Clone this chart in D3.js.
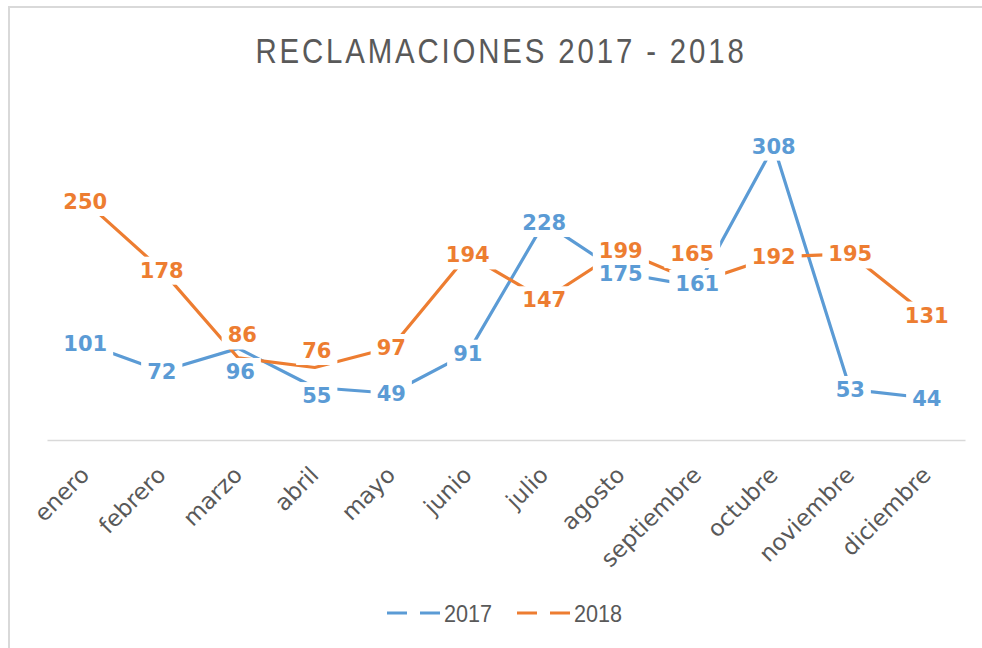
<!DOCTYPE html>
<html>
<head>
<meta charset="utf-8">
<script src="https://cdn.jsdelivr.net/npm/d3@7/dist/d3.min.js"></script>
<style>
  body { margin: 0; background: #fff; }
</style>
</head>
<body>
<div id="chart"></div>
<script>
var months = ["enero", "febrero", "marzo", "abril", "mayo", "junio", "julio",
  "agosto", "septiembre", "octubre", "noviembre", "diciembre"];
var serie2017 = [101, 72, 96, 55, 49, 91, 228, 175, 161, 308, 53, 44];
var serie2018 = [250, 178, 86, 76, 97, 194, 147, 199, 165, 192, 195, 131];
var seriesNames = ["2017", "2018"];
var yDomain = [0, 350];

// labels that were dragged off their point in the original (px)
var nudge2017 = [[0,0],[0,0],[2,23],[2,8],[0,0],[0,0],[0,0],[0,0],[0,-3],[0,0],[0,0],[0,0]];
var nudge2018 = [[0,0],[0,0],[4,-23],[2,-17],[0,0],[0,0],[0,0],[0,0],[-5,-29],[0,0],[0,0],[0,0]];

var colors = ["#5B9BD5", "#ED7D31"];
var width = 982, height = 648;
var plot = {left: 47, right: 965, top: 106, bottom: 440};

var svg = d3.select("#chart").append("svg")
  .attr("width", width)
  .attr("height", height);

svg.append("rect").attr("width", width).attr("height", height).attr("fill", "#fff");

// chart area border (runs off right and bottom edges)
svg.append("path")
  .attr("d", "M9,648V7H982")
  .attr("fill", "none")
  .attr("stroke", "#d9d9d9")
  .attr("stroke-width", 2);

// title, squeezed a bit to look like the narrow office font
svg.append("text")
  .attr("transform", "translate(501,63) scale(0.84,1)")
  .attr("text-anchor", "middle")
  .style("font-family", "'Liberation Sans', Arial, sans-serif")
  .style("font-size", "35px")
  .style("letter-spacing", "3.4px")
  .attr("fill", "#595959")
  .text("RECLAMACIONES 2017 - 2018");

var xScale = d3.scaleBand()
  .domain(months)
  .range([plot.left, plot.right]);

var yScale = d3.scaleLinear()
  .domain(yDomain)
  .range([plot.bottom, plot.top]);

function xc(i) { return xScale(months[i]) + xScale.bandwidth() / 2; }

// x axis
var xAxis = svg.append("g")
  .attr("transform", "translate(0," + yScale(0) + ")")
  .call(d3.axisBottom(xScale).tickSize(0).tickFormat(""));
xAxis.select(".domain").attr("stroke", "#d9d9d9").attr("stroke-width", 1.5);

svg.selectAll(".xlabel")
  .data(months)
  .enter()
  .append("text")
  .attr("class", "xlabel")
  .attr("transform", function(d, i) { return "translate(" + (xc(i) + 1) + ",472) rotate(-45)"; })
  .attr("text-anchor", "end")
  .attr("dy", "0.27em")
  .style("font-family", "'DejaVu Sans', sans-serif")
  .style("font-size", "23px")
  .attr("fill", "#595959")
  .text(function(d) { return d; });

var allSeries = [serie2017, serie2018];
var nudges = [nudge2017, nudge2018];

var line = d3.line()
  .x(function(d, i) { return xc(i); })
  .y(function(d) { return yScale(d); });

allSeries.forEach(function(s, k) {
  svg.append("path")
    .datum(s)
    .attr("d", line)
    .attr("fill", "none")
    .attr("stroke", colors[k])
    .attr("stroke-width", 3.2)
    .attr("stroke-linecap", "round")
    .attr("stroke-linejoin", "round");
});

// data labels with white box that hides the line below
allSeries.forEach(function(s, k) {
  var lab = svg.selectAll(".lab" + k)
    .data(s)
    .enter()
    .append("g")
    .attr("class", "lab" + k)
    .attr("transform", function(d, i) {
      return "translate(" + (xc(i) + nudges[k][i][0]) + "," + (yScale(d) + nudges[k][i][1]) + ")";
    });
  lab.append("rect").attr("fill", "#fff");
  var txt = lab.append("text")
    .attr("text-anchor", "middle")
    .attr("dy", "0.36em")
    .style("font-family", "'DejaVu Sans', sans-serif")
    .style("font-size", "21px")
    .style("font-weight", "bold")
    .attr("fill", colors[k])
    .text(function(d) { return d; });
  txt.each(function() {
    var b = this.getBBox();
    d3.select(this.previousSibling)
      .attr("x", b.x - 6)
      .attr("y", b.y - 2)
      .attr("width", b.width + 12)
      .attr("height", b.height + 4);
  });
});

// legend
var legendX = [387, 517];
seriesNames.forEach(function(name, k) {
  svg.append("line")
    .attr("x1", legendX[k]).attr("x2", legendX[k] + 53)
    .attr("y1", 613).attr("y2", 613)
    .attr("stroke", colors[k])
    .attr("stroke-width", 3.2)
    .attr("stroke-dasharray", "20,13");
  svg.append("text")
    .attr("transform", "translate(" + (legendX[k] + 57) + ",622) scale(0.9,1)")
    .style("font-family", "'Liberation Sans', Arial, sans-serif")
    .style("font-size", "24px")
    .attr("fill", "#595959")
    .text(name);
});
</script>
</body>
</html>
